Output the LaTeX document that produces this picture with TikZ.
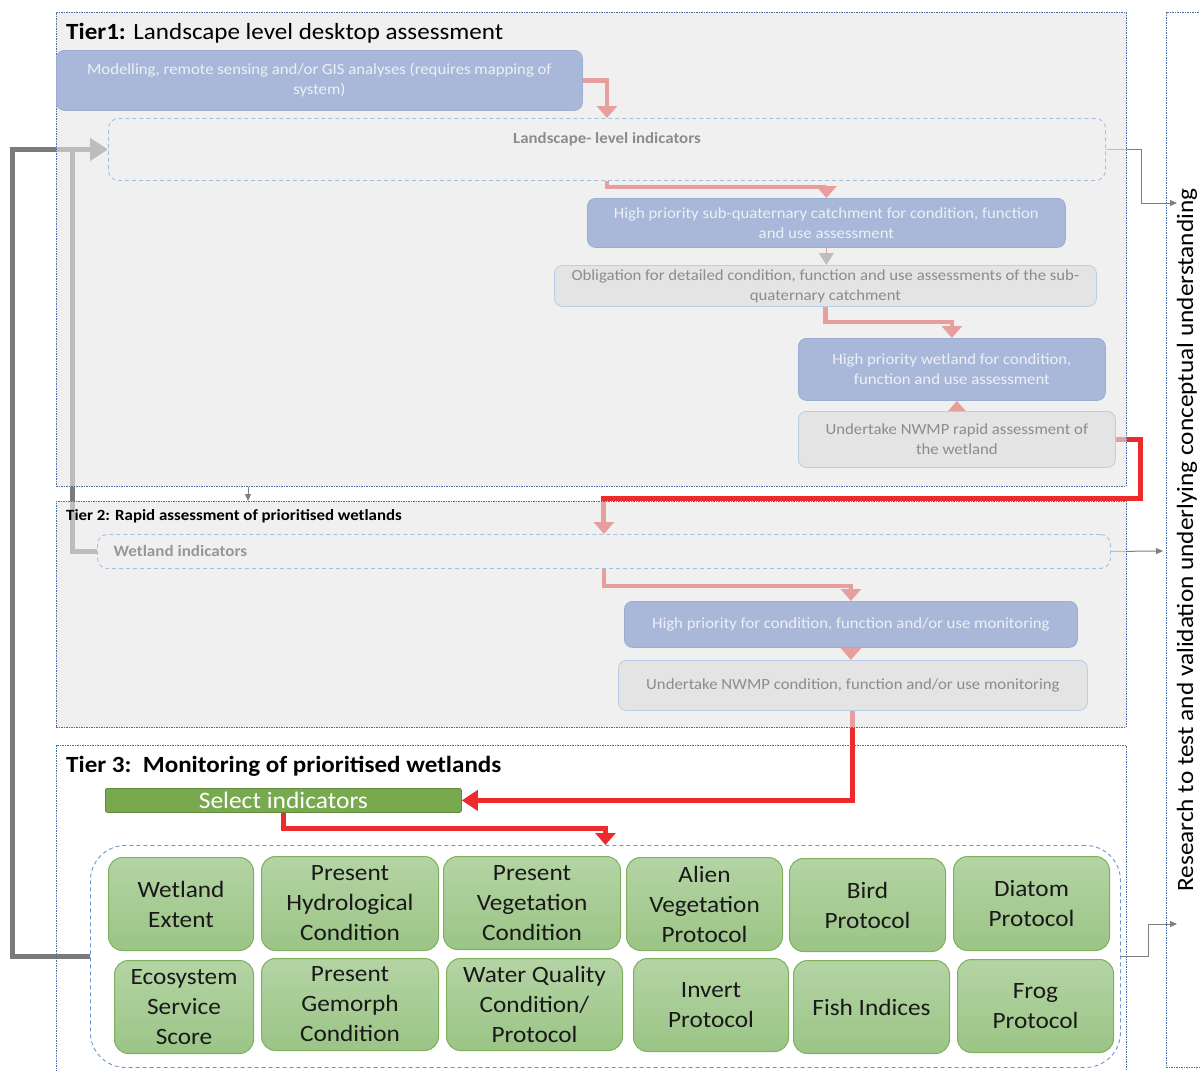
\documentclass[tikz,border=0pt]{standalone}
\usepackage{fontspec}
\setmainfont{Carlito}[FakeStretch=1.08]
\usetikzlibrary{arrows.meta,calc}
\pgfdeclarelayer{conn}
\pgfdeclarelayer{veil}
\pgfsetlayers{conn,veil,main}
\definecolor{cTier}{HTML}{4A6FA5}
\definecolor{cVeil}{HTML}{E6E6E6}
\definecolor{cBlue}{HTML}{A9B8D8}
\definecolor{cBlueEdge}{HTML}{9AAED4}
\definecolor{cBlueText}{HTML}{EDF0F6}
\definecolor{cGray}{HTML}{E4E4E4}
\definecolor{cGrayEdge}{HTML}{B9CDE5}
\definecolor{cGrayText}{HTML}{8C8C8C}
\definecolor{cDash}{HTML}{A4BEDF}
\definecolor{cGrpDash}{HTML}{6A96D0}
\definecolor{cRed}{HTML}{EE2A2A}
\definecolor{cLoop}{HTML}{7B7B7B}
\definecolor{cThin}{HTML}{7F7F7F}
\definecolor{cGreenTop}{HTML}{B4D4A4}
\definecolor{cGreenBot}{HTML}{9BC486}
\definecolor{cGreenEdge}{HTML}{7EB05E}
\definecolor{cSel}{HTML}{78A94F}
\definecolor{cSelEdge}{HTML}{5F8C3C}
\tikzset{
  tierbox/.style={draw=cTier, dash pattern=on 1.5pt off 1pt, line width=0.7pt, anchor=north west, inner sep=0pt},
  bluebox/.style={rounded corners=8pt, fill=cBlue, draw=cBlueEdge, line width=0.8pt, text=cBlueText, align=center, anchor=north west, inner sep=0pt, font=\fontsize{15.5}{20}\selectfont},
  graybox/.style={rounded corners=8pt, fill=cGray, draw=cGrayEdge, line width=0.8pt, text=cGrayText, align=center, anchor=north west, inner sep=0pt, font=\fontsize{15.5}{20}\selectfont},
  dashbox/.style={rounded corners=10pt, draw=cDash, dash pattern=on 4pt off 3pt, line width=0.9pt, anchor=north west, inner sep=0pt},
  greenbox/.style={rounded corners=14pt, top color=cGreenTop, bottom color=cGreenBot, draw=cGreenEdge, line width=1pt, align=center, anchor=north west, inner sep=0pt, font=\fontsize{23.4}{30}\selectfont, text=black!90},
  flow/.style={cRed, line width=4.5pt, -{Triangle[length=12pt,width=20pt]}},
  loopline/.style={cLoop, line width=5pt},
  thinarrow/.style={cThin, line width=1pt, -{Triangle[length=7pt,width=6pt]}},
  tiertitle/.style={anchor=west, inner sep=0pt, text=black}
}
\begin{document}
\begin{tikzpicture}[x=1pt,y=-1pt]
\useasboundingbox (0,0) rectangle (1200,1071);
% tiers
\node[tierbox, minimum width=1070pt, minimum height=474pt] (t1) at (56,12) {};
\node[tierbox, minimum width=1070pt, minimum height=226pt] (t2) at (56,501) {};
\node[tierbox, minimum width=1070pt, minimum height=330pt] (t3) at (56,745) {};
\node[tierbox, minimum width=60pt, minimum height=1055pt] (rbox) at (1166,12) {};
\node[tiertitle, font=\fontsize{23.2}{26}\selectfont] (t1title) at (66,33) {\textbf{Tier1:} Landscape level desktop assessment};
\node[tiertitle, font=\fontsize{15.6}{18}\selectfont\bfseries] (t2title) at (66,516) {Tier 2: Rapid assessment of prioritised wetlands};
\node[tiertitle, font=\fontsize{23.2}{26}\selectfont\bfseries] (t3title) at (66,766) {Tier 3:\ \ Monitoring of prioritised wetlands};
\node[rotate=90, font=\fontsize{23.4}{26}\selectfont, inner sep=0pt] (research) at (1187,540) {Research to test and validation underlying conceptual understanding};
% tier 1 boxes
\node[bluebox, minimum width=526pt, minimum height=60pt] (model) at (56,50) {Modelling, remote sensing and/or GIS analyses (requires mapping of\\system)};
\node[dashbox, minimum width=997pt, minimum height=62pt,
  label={[anchor=north, yshift=-11pt, font=\fontsize{15.6}{18}\selectfont\bfseries, text=cGrayText]north:Landscape- level indicators}] (land) at (108,118) {};
\node[bluebox, minimum width=478pt, minimum height=49pt] (hpsq) at (587,198) {High priority sub-quaternary catchment for condition, function\\and use assessment};
\node[graybox, minimum width=542pt, minimum height=41pt] (oblig) at (554,265) {Obligation for detailed condition, function and use assessments of the sub-\\quaternary catchment};
\node[bluebox, minimum width=307pt, minimum height=62pt] (hpw) at (798,338) {High priority wetland for condition,\\function and use assessment};
\node[graybox, minimum width=317pt, minimum height=56pt] (urapid) at (798,411) {Undertake NWMP rapid assessment of\\the wetland};
% tier 2 boxes
\node[dashbox, minimum width=1013pt, minimum height=34pt,
  label={[anchor=west, xshift=13pt, font=\fontsize{15.8}{18}\selectfont\bfseries, text=cGrayText!90]west:Wetland indicators}] (wind) at (97,534) {};
\node[bluebox, minimum width=453pt, minimum height=46pt] (hpmon) at (624,601) {High priority for condition, function and/or use monitoring};
\node[graybox, minimum width=469pt, minimum height=50pt] (umon) at (618,660) {Undertake NWMP condition, function and/or use monitoring};
% tier 3
\node[fill=cSel, draw=cSelEdge, line width=0.8pt, rounded corners=2pt, anchor=north west, inner sep=0pt,
  minimum width=356pt, minimum height=24pt, text=white, font=\fontsize{23.6}{24}\selectfont] (sel) at (105,788) {Select indicators};
\node[dashbox, draw=cGrpDash, rounded corners=35pt, minimum width=1030pt, minimum height=222pt] (grp) at (90,845) {};
\node[greenbox, minimum width=145pt, minimum height=93pt] (g1) at (108,857) {Wetland\\Extent};
\node[greenbox, minimum width=177pt, minimum height=94pt] (g2) at (261,856) {Present\\Hydrological\\Condition};
\node[greenbox, minimum width=177pt, minimum height=93pt] (g3) at (443,856) {Present\\Vegetation\\Condition};
\node[greenbox, minimum width=156pt, minimum height=93pt] (g4) at (626,857) {Alien\\Vegetation\\Protocol};
\node[greenbox, minimum width=156pt, minimum height=93pt] (g5) at (789,858) {Bird\\Protocol};
\node[greenbox, minimum width=156pt, minimum height=94pt] (g6) at (953,856) {Diatom\\Protocol};
\node[greenbox, minimum width=139pt, minimum height=93pt] (g7) at (114,960) {Ecosystem\\Service\\Score};
\node[greenbox, minimum width=177pt, minimum height=92pt] (g8) at (261,958) {Present\\Gemorph\\Condition};
\node[greenbox, minimum width=176pt, minimum height=92pt] (g9) at (446,958) {Water Quality\\Condition/\\Protocol};
\node[greenbox, minimum width=155pt, minimum height=93pt] (g10) at (633,958) {Invert\\Protocol};
\node[greenbox, minimum width=156pt, minimum height=93pt] (g11) at (793,960) {Fish Indices};
\node[greenbox, minimum width=156pt, minimum height=93pt] (g12) at (957,959) {Frog\\Protocol};
% helper coordinates
\coordinate (br) at (72,0);
\coordinate (ax) at (248,0);
\coordinate (r1) at (1177,203);
\coordinate (r2) at (1163,551);
\coordinate (r3) at (1177,924);
% veil
\begin{pgfonlayer}{veil}
\fill[cVeil, opacity=0.62] (t1.north west) rectangle (t1.south east);
\fill[cVeil, opacity=0.62] (t2.north west) rectangle (t2.south east);
\end{pgfonlayer}
% connectors
\begin{pgfonlayer}{conn}
\draw[flow] (model.east) -| (land.north);
\draw[flow] (land.south) -- ++(0,6) -| (hpsq.north);
\draw[cRed, line width=1.5pt, -{Triangle[length=12pt,width=15pt,color=cThin]}] (hpsq.south) -- (hpsq.south |- oblig.north);
\draw[flow] (oblig.south) -- ++(0,15) -| (hpw.north);
\draw[flow] (urapid.north) -- (urapid.north |- hpw.south);
\draw[flow, line width=5pt] (urapid.east) -- ++(25,0) |- ($(wind.north)+(0,-36)$) -- (wind.north);
\draw[flow] (wind.south) -- ++(0,17) -| (hpmon.north);
\draw[flow] (hpmon.south) -- (hpmon.south |- umon.north);
\draw[flow, line width=5pt, -{Triangle[length=16pt,width=20pt]}] (umon.south) |- (sel.east);
\draw[flow, line width=5pt] (sel.south) -- ++(0,16) -| (grp.north);
\draw[loopline, -{Triangle[length=18pt,width=22pt]}] (grp.west) -- ++(-78,0) |- (land.west);
\draw[loopline] (br |- land.west) |- (wind.west);
\draw[thinarrow] (land.east) -- ++(36,0) |- (r1);
\draw[thinarrow] (wind.east) -- (r2);
\draw[thinarrow] (grp.east) -- ++(28,0) |- (r3);
\draw[thinarrow, line width=0.8pt] (ax |- t1.south) -- (ax |- t2.north);
\end{pgfonlayer}
\end{tikzpicture}
\end{document}
